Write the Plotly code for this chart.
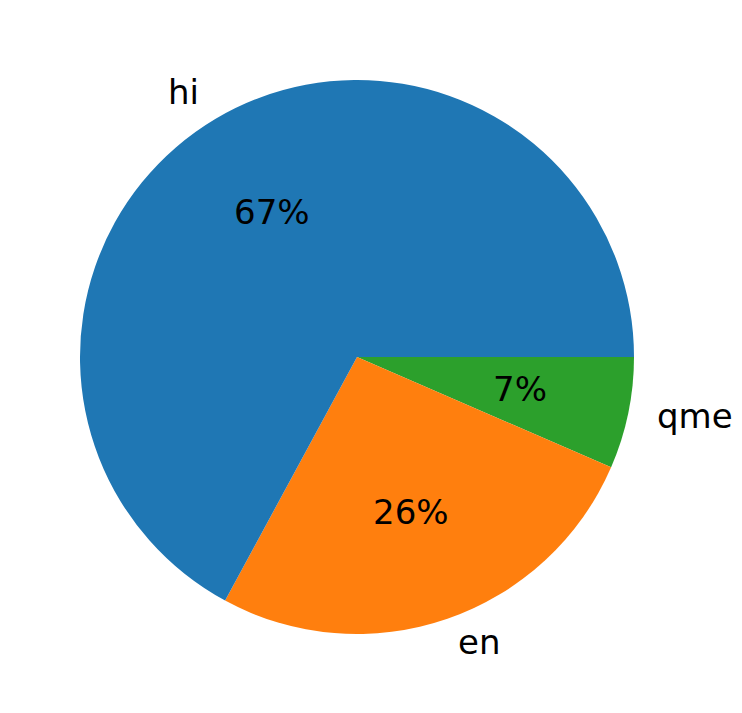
import math
import plotly.graph_objects as go

labels = ["hi", "en", "qme"]
values = [206, 81, 20]
colors = ["#1f77b4", "#ff7f0e", "#2ca02c"]

total = sum(values)
# matplotlib draws counterclockwise from 3 o'clock; plotly clockwise from 3 o'clock
# with reversed order gives the same layout.
fig = go.Figure(go.Pie(
    labels=labels[::-1], values=values[::-1], sort=False, direction="clockwise",
    rotation=90, marker=dict(colors=colors[::-1], line=dict(width=0)),
    textinfo="none", hoverinfo="label+percent", showlegend=False,
))

FONT = dict(family="DejaVu Sans", size=34, color="black")
ann = []
start = 0.0
for lab, v in zip(labels, values):
    frac = v / total
    mid = math.radians((start + frac / 2) * 360)
    start += frac
    cx, cy = math.cos(mid), math.sin(mid)
    ann.append(dict(x=0.5 + 0.5 * 0.6 * cx, y=0.5 + 0.5 * 0.6 * cy, xref="paper", yref="paper",
                    text=f"{round(frac*100):.0f}%", showarrow=False, font=FONT,
                    xanchor="center", yanchor="middle", yshift=2))
    ann.append(dict(x=0.5 + 0.5 * 1.1 * cx, y=0.5 + 0.5 * 1.1 * cy, xref="paper", yref="paper",
                    text=lab, showarrow=False, font=FONT,
                    xanchor="left" if cx > 0 else "right", yanchor="middle", yshift=3))

fig.update_layout(
    width=742, height=713, margin=dict(l=72, r=116, t=72, b=87),
    paper_bgcolor="white", plot_bgcolor="white", annotations=ann,
)
fig.write_html("out.html")
